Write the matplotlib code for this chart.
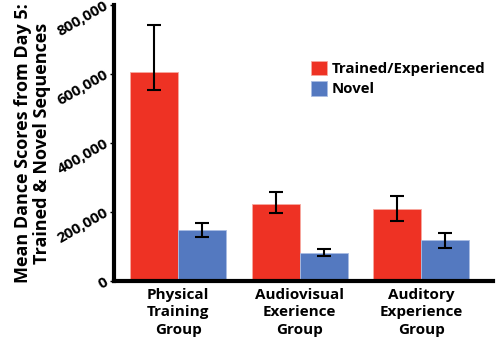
import matplotlib.pyplot as plt
import numpy as np

groups = ['Physical\nTraining\nGroup', 'Audiovisual\nExerience\nGroup', 'Auditory\nExperience\nGroup']
trained = [605000, 224000, 208000]
trained_lo = [552000, 198000, 175000]
trained_hi = [741000, 257000, 245000]
novel = [147000, 80000, 120000]
novel_lo = [127000, 72000, 96000]
novel_hi = [168000, 92000, 139000]
yticks = [0, 200000, 400000, 600000, 800000]
ytick_labels = ['0', '200,000', '400,000', '600,000', '800,000']

plt.rcParams['font.family'] = ['Open Sans', 'DejaVu Sans']
plt.rcParams['font.weight'] = 'bold'

fig = plt.figure(figsize=(4.96, 3.48), dpi=100)
ax = fig.add_axes([0.230, 0.1925, 0.764, 0.7935])

x = np.arange(len(groups))
w = 0.395
t = np.array(trained)
n = np.array(novel)
t_err = [t - np.array(trained_lo), np.array(trained_hi) - t]
n_err = [n - np.array(novel_lo), np.array(novel_hi) - n]

ax.bar(x - w / 2, t, w, color='#ee3224', edgecolor='#f7a9a0', linewidth=0.6,
       label='Trained/Experienced', zorder=2)
ax.bar(x + w / 2, n, w, color='#5479c0', edgecolor='#a9bde3', linewidth=0.6,
       label='Novel', zorder=2)
ax.errorbar(x - w / 2, t, yerr=t_err, fmt='none', ecolor='black', elinewidth=1.5,
            capsize=5, capthick=1.5, zorder=3)
ax.errorbar(x + w / 2, n, yerr=n_err, fmt='none', ecolor='black', elinewidth=1.5,
            capsize=5, capthick=1.5, zorder=3)

ax.set_xlim(-0.526, 2.59)
ax.set_ylim(0, 795000)
ax.spines['top'].set_visible(False)
ax.spines['right'].set_visible(False)
ax.spines['left'].set_linewidth(3)
ax.spines['bottom'].set_linewidth(3)

ax.set_yticks(yticks)
ax.set_yticklabels(ytick_labels, rotation=30, ha='right', va='center',
                   rotation_mode='anchor', fontsize=11, fontweight='bold')
ax.tick_params(axis='y', length=3, width=1, pad=2)
ax.set_xticks(x)
ax.set_xticklabels(groups, fontsize=11, fontweight='bold', linespacing=1.3)
ax.tick_params(axis='x', length=0, pad=5)

ax.set_ylabel('Mean Dance Scores from Day 5:\nTrained & Novel Sequences',
              fontsize=13, fontweight='bold', labelpad=3, linespacing=1.05)

ax.legend(loc='upper left', bbox_to_anchor=(0.503, 0.82), frameon=False,
          fontsize=10.8, handlelength=1.1, handleheight=1.1, handletextpad=0.3,
          labelspacing=0.35, borderaxespad=0)

fig.savefig('out.png', dpi=100)
